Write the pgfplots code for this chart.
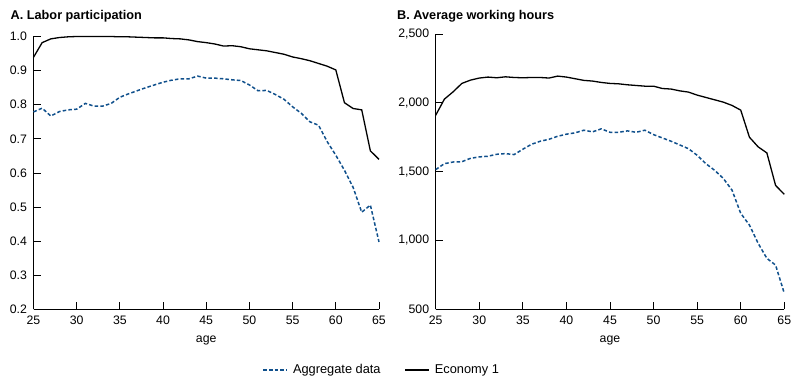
\documentclass[border=0pt]{standalone}
\usepackage{pgfplots}
\pgfplotsset{compat=1.18}
\usepackage{pgfplotstable}
\usepackage{fontspec}
\setmainfont{Liberation Sans}
\definecolor{aggblue}{RGB}{16,80,140}

\pgfplotstableread{
age lfp
25 0.779
26 0.790
27 0.767
28 0.780
29 0.785
30 0.787
31 0.804
32 0.796
33 0.796
34 0.804
35 0.822
36 0.832
37 0.841
38 0.850
39 0.858
40 0.866
41 0.872
42 0.876
43 0.876
44 0.884
45 0.878
46 0.878
47 0.876
48 0.873
49 0.871
50 0.858
51 0.841
52 0.842
53 0.830
54 0.816
55 0.794
56 0.775
57 0.750
58 0.740
59 0.692
60 0.652
61 0.608
62 0.558
63 0.485
64 0.506
65 0.398
}\aggA

\pgfplotstableread{
age lfp
25 0.939
26 0.982
27 0.993
28 0.997
29 0.999
30 1.000
31 1.000
32 1.000
33 1.000
34 1.000
35 0.999
36 0.999
37 0.998
38 0.997
39 0.996
40 0.996
41 0.994
42 0.993
43 0.990
44 0.985
45 0.982
46 0.978
47 0.972
48 0.973
49 0.970
50 0.964
51 0.961
52 0.958
53 0.953
54 0.948
55 0.940
56 0.935
57 0.929
58 0.921
59 0.913
60 0.902
61 0.806
62 0.789
63 0.785
64 0.665
65 0.640
}\ecoA

\pgfplotstableread{
age hrs
25 1515
26 1558
27 1570
28 1572
29 1597
30 1607
31 1612
32 1626
33 1631
34 1624
35 1663
36 1699
37 1721
38 1735
39 1757
40 1772
41 1782
42 1801
43 1789
44 1811
45 1786
46 1786
47 1796
48 1786
49 1801
50 1769
51 1745
52 1721
53 1694
54 1667
55 1619
56 1558
57 1510
58 1451
59 1366
60 1197
61 1112
62 979
63 870
64 821
65 616
}\aggB

\pgfplotstableread{
age hrs
25 1910
26 2027
27 2080
28 2141
29 2165
30 2180
31 2187
32 2182
33 2189
34 2184
35 2182
36 2184
37 2184
38 2180
39 2194
40 2187
41 2175
42 2163
43 2158
44 2148
45 2141
46 2138
47 2131
48 2126
49 2121
50 2121
51 2104
52 2100
53 2087
54 2078
55 2056
56 2039
57 2022
58 2005
59 1981
60 1947
61 1750
62 1680
63 1636
64 1400
65 1335
}\ecoB

\pgfplotsset{
  myaxis/.style={
    scale only axis,
    axis x line*=bottom,
    axis y line*=left,
    axis line style={-, black, line width=0.8pt},
    xmin=25, xmax=65,
    xtick={25,30,...,65},
    major tick length=7pt,
    tick style={black, line width=0.8pt},
    tick align=inside,
    ticklabel style={font=\fontsize{12.3}{14}\selectfont},
    x tick label style={yshift=-3pt},
    y tick label style={xshift=-3pt},
    /pgf/number format/assume math mode=true,
    xlabel={age},
    xlabel style={font=\fontsize{12.3}{14}\selectfont, at={(axis description cs:0.5,0)}, anchor=center, yshift=-31pt},
    clip=false,
    legend image code/.code={\draw[##1] (0pt,0pt) -- (24pt,0pt); \path (27pt,0pt);},
  },
  aggstyle/.style={aggblue, line width=1.5pt, dash pattern=on 3.5pt off 2.2pt},
  ecostyle/.style={black, line width=1.3pt},
}

\begin{document}
\begin{tikzpicture}
\useasboundingbox (0pt,0pt) rectangle (800pt,382pt);

\begin{axis}[myaxis,
  at={(33.5pt,72.5pt)}, anchor=south west,
  width=345.5pt, height=273pt,
  ymin=0.2, ymax=1.0,
  ytick={0.2,0.3,...,1.0},
  yticklabel style={/pgf/number format/.cd, fixed, fixed zerofill, precision=1},
  legend columns=2,
  legend style={draw=none, fill=none, at={(axis description cs:1.008,-0.222)}, anchor=center,
    font=\fontsize{12.8}{15}\selectfont,
    /tikz/every even column/.append style={column sep=22pt}},
]
\addplot[aggstyle] table[x=age, y=lfp] {\aggA};
\addlegendentry{Aggregate data}
\addplot[ecostyle] table[x=age, y=lfp] {\ecoA};
\addlegendentry{Economy 1}
\end{axis}

\begin{axis}[myaxis,
  at={(435.7pt,72.7pt)}, anchor=south west,
  width=348.6pt, height=275.3pt,
  ymin=500, ymax=2500,
  ytick={500,1000,...,2500},
  yticklabel style={/pgf/number format/.cd, fixed, 1000 sep={,}},
]
\addplot[aggstyle] table[x=age, y=hrs] {\aggB};
\addplot[ecostyle] table[x=age, y=hrs] {\ecoB};
\end{axis}

\node[anchor=base west, font=\fontsize{12.7}{15}\selectfont\bfseries, inner sep=0pt] at (10.5pt,362pt) {A. Labor participation};
\node[anchor=base west, font=\fontsize{12.7}{15}\selectfont\bfseries, inner sep=0pt] at (397pt,362pt) {B. Average working hours};
\end{tikzpicture}
\end{document}
